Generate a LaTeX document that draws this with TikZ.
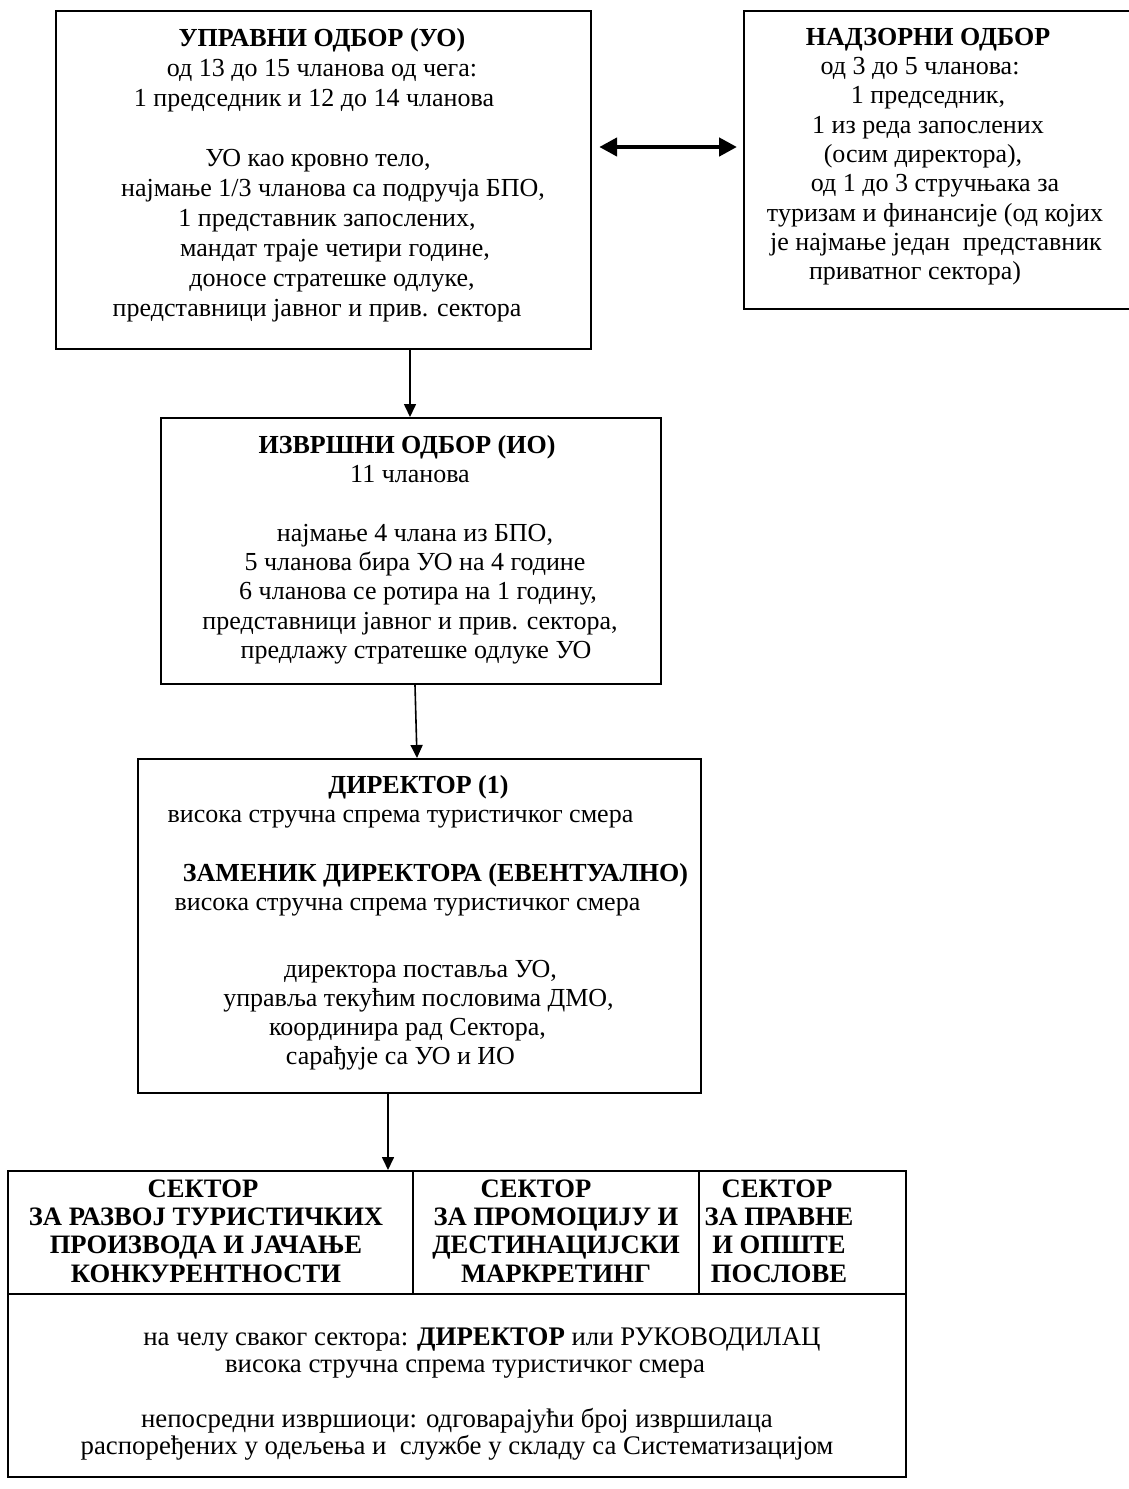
\documentclass[tikz,border=0pt]{standalone}
\usepackage{fontspec}
\setmainfont{Liberation Serif}
\usetikzlibrary{arrows.meta,calc}
% a kern used to nudge a centred line sideways
\newcommand{\padx}[1]{\kern#1pt\relax}
\begin{document}
\begin{tikzpicture}[x=1pt,y=-1pt,
  box/.style={draw,line width=2.2pt,inner sep=0pt,anchor=north west},
  txt/.style={align=center,inner sep=0pt,anchor=north,font=\fontsize{26}{29.3}\selectfont},
  head/.style={align=center,inner sep=0pt,anchor=north,font=\fontsize{26.6}{28.4}\selectfont\bfseries},
  link/.style={line width=1.6pt,-{Triangle[length=13pt,width=12pt]}},
  both/.style={line width=4.5pt,{Triangle[length=18pt,width=18pt]}-{Triangle[length=18pt,width=18pt]}}]
\useasboundingbox (0,0) rectangle (1128,1489);

% boxes
\node[box,minimum width=535pt,minimum height=338pt] (uo) at (55,10) {};
\node[box,minimum width=388pt,minimum height=298pt] (nd) at (743,10) {};
\node[box,minimum width=500pt,minimum height=266pt] (io) at (160,417) {};
\node[box,minimum width=563pt,minimum height=334pt] (dir) at (137,758) {};
\node[box,minimum width=898pt,minimum height=306pt] (tbl) at (7,1170) {};

% inner rules of the sector table
\coordinate (hrow) at (0,1294);
\coordinate (colA) at (413,0);
\coordinate (colB) at (699,0);
\draw[line width=2.2pt] (tbl.west |- hrow) -- (tbl.east |- hrow);
\draw[line width=2.2pt] (tbl.north -| colA) -- (hrow -| colA);
\draw[line width=2.2pt] (tbl.north -| colB) -- (hrow -| colB);

% texts
\node[txt,font=\fontsize{26}{30}\selectfont] (uotext) at (322,25) {\strut\textbf{УПРАВНИ ОДБОР (УО)}\\
од 13 до 15 чланова од чега:\\
1 председник и 12 до 14 чланова\padx{16}\\
\mbox{}\\
УО као кровно тело,\padx{8}\\
\padx{22}најмање 1/3 чланова са подручја БПО,\\
\padx{10}1 представник запослених,\\
\padx{26}мандат траје четири године,\\
\padx{20}доносе стратешке одлуке,\\
представници јавног и прив. сектора\padx{10}};

\node[txt] (ndtext) at (928,24.5) {\strut\textbf{НАДЗОРНИ ОДБОР}\\
од 3 до 5 чланова:\padx{16}\\
1 председник,\\
1 из реда запослених\\
(осим директора),\padx{10}\\
\padx{14}од 1 до 3 стручњака за\\
\padx{14}туризам и финансије (од којих\\
\padx{16}је најмање један\ \ представник\\
приватног сектора)\padx{26}};

\node[txt] (iotext) at (410,432.5) {\strut\textbf{ИЗВРШНИ ОДБОР (ИО)}\padx{6}\\
11 чланова\\
\mbox{}\\
\padx{10}најмање 4 члана из БПО,\\
\padx{10}5 чланова бира УО на 4 године\\
\padx{16}6 чланова се ротира на 1 годину,\\
представници јавног и прив. сектора,\\
\padx{12}предлажу стратешке одлуке УО};

\node[txt] (dirtext) at (418.5,772.5) {\strut\textbf{ДИРЕКТОР (1)}\\
висока стручна спрема туристичког смера\padx{36}\\
\mbox{}\\
\padx{34}\textbf{ЗАМЕНИК ДИРЕКТОРА (ЕВЕНТУАЛНО)}\\
висока стручна спрема туристичког смера\padx{22}\\
\mbox{}\\[8pt]
\padx{4}директора поставља УО,\\
управља текућим пословима ДМО,\\
координира рад Сектора,\padx{22}\\
сарађује са УО и ИО\padx{36}};

\node[head] (secA) at (206,1177) {\strut СЕКТОР\padx{6}\\
ЗА РАЗВОЈ ТУРИСТИЧКИХ\\
ПРОИЗВОДА И ЈАЧАЊЕ\\
КОНКУРЕНТНОСТИ};
\node[head] (secB) at (556,1177) {\strut СЕКТОР\padx{40}\\
ЗА ПРОМОЦИЈУ И\\
ДЕСТИНАЦИЈСКИ\\
МАРКРЕТИНГ};
\node[head] (secC) at (779,1177) {\strut СЕКТОР\padx{4}\\
ЗА ПРАВНЕ\\
И ОПШТЕ\\
ПОСЛОВЕ};

\node[txt,font=\fontsize{26.8}{27.4}\selectfont] (tbltext) at (457,1326) {\strut\padx{50}на челу сваког сектора: \textbf{ДИРЕКТОР} или РУКОВОДИЛАЦ\\
\padx{16}висока стручна спрема туристичког смера\\
\mbox{}\\
непосредни извршиоци: одговарајући број извршилаца\\
распоређених у одељења и\ \ службе у складу са Систематизацијом};

% connectors
\coordinate (arrowy) at (0,147);
\coordinate (ax1) at (410,0);
\coordinate (ax2) at (415,0);
\coordinate (ax2b) at (417,0);
\coordinate (ax3) at (388,0);
\draw[both] ($(uo.east |- arrowy)+(7,0)$) -- ($(nd.west |- arrowy)+(-6,0)$);
\draw[link] (uo.south -| ax1) -- (io.north -| ax1);
\draw[link] (io.south -| ax2) -- (dir.north -| ax2b);
\draw[link] (dir.south -| ax3) -- (tbl.north -| ax3);
\end{tikzpicture}
\end{document}
